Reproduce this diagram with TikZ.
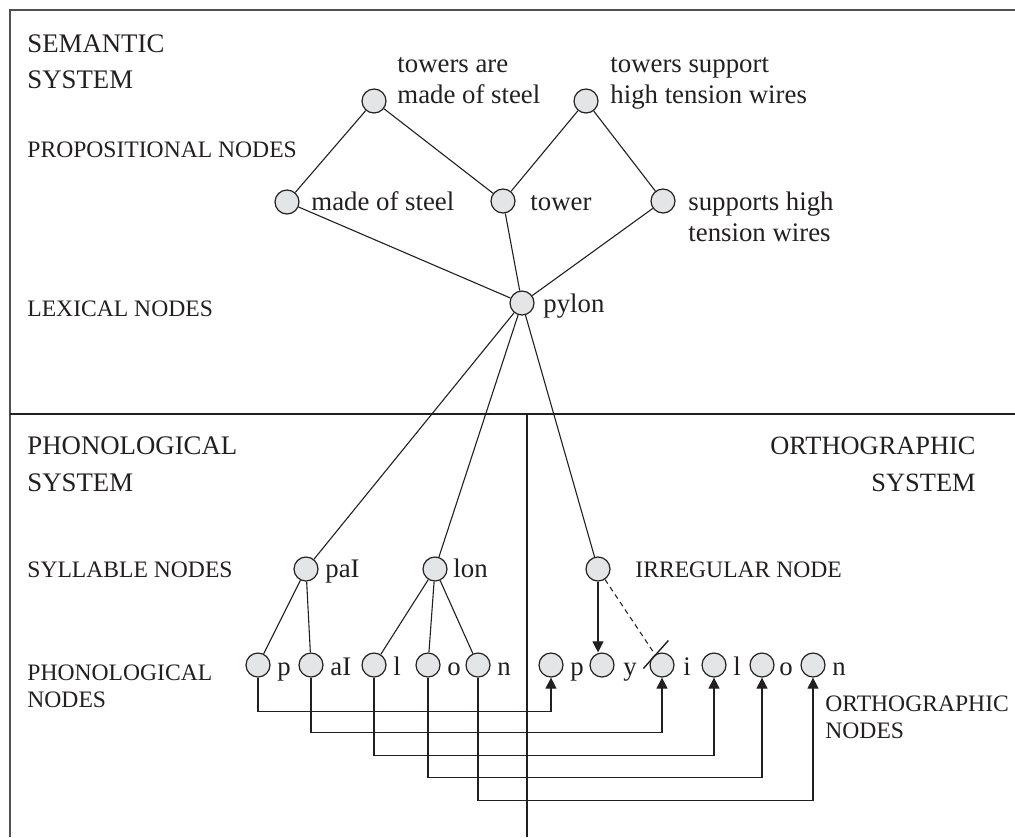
\documentclass[tikz,border=0pt]{standalone}
\usepackage{fontspec}
\setmainfont{Liberation Serif}
\usetikzlibrary{arrows.meta,calc}
\definecolor{ndfill}{HTML}{E4E5E7}
\definecolor{framegray}{HTML}{505050}
\definecolor{ink}{HTML}{231F20}
\begin{document}
\begin{tikzpicture}[x=0.5pt,y=-0.5pt,
  nd/.style={circle,draw=ink,fill=ndfill,line width=0.6pt,minimum size=12pt,inner sep=0pt},
  lb/.style={anchor=base west,inner sep=0pt,text=ink,font=\fontsize{13.4}{16}\selectfont},
  lbr/.style={anchor=base east,inner sep=0pt,text=ink,font=\fontsize{13.2}{16}\selectfont},
  cat/.style={anchor=base west,inner sep=0pt,text=ink,font=\fontsize{11.8}{14}\selectfont},
  ln/.style={draw=ink,line width=0.55pt},
  ar/.style={draw=ink,line width=0.55pt,-{Triangle[length=5.5pt,width=5.5pt]}},
  dsh/.style={draw=ink,line width=0.55pt,dash pattern=on 2.5pt off 2pt},
  framel/.style={draw=framegray,line width=1pt},
  divl/.style={draw=ink,line width=0.6pt}
]
\useasboundingbox (0,0) rectangle (1015,837);
% frame
\coordinate (ftr) at (1015,10);
\coordinate (ftl) at (10,10);
\coordinate (fbl) at (10,837);
\draw[framel] (ftr) -- (ftl) -- (fbl);
\coordinate (dl) at (10,414);
\coordinate (dr) at (1015,414);
\coordinate (vt) at (527,414);
\coordinate (vb) at (527,837);
\draw[divl] (dl) -- (dr);
\draw[divl] (vt) -- (vb);

% semantic nodes
\node[nd] (T1) at (374,101) {};
\node[nd] (T2) at (586,101) {};
\node[nd] (M) at (287,202) {};
\node[nd] (TW) at (503,201) {};
\node[nd] (S) at (663,201) {};
\node[nd] (P) at (522,303) {};
% syllable nodes
\node[nd] (paI) at (306,569) {};
\node[nd] (lon) at (435,569) {};
\node[nd] (irr) at (598,569) {};
% phonological nodes
\node[nd] (pp) at (258,665) {};
\node[nd] (pa) at (311,665) {};
\node[nd] (pl) at (374,665) {};
\node[nd] (po) at (428,665) {};
\node[nd] (pn) at (478,665) {};
% orthographic nodes
\node[nd] (op) at (551,665) {};
\node[nd] (oy) at (602,665) {};
\node[nd] (oi) at (662,665) {};
\node[nd] (ol) at (714,665) {};
\node[nd] (oo) at (762,665) {};
\node[nd] (on) at (813,665) {};

% labels
\node[lb] (lt1a) at (397,72) {towers are};
\node[lb] (lt1b) at (397,103) {made of steel};
\node[lb] (lt2a) at (610,72) {towers support};
\node[lb] (lt2b) at (610,103) {high tension wires};
\node[lb] (lm) at (311,210) {made of steel};
\node[lb] (ltw) at (530,210) {tower};
\node[lb] (lsa) at (688,210) {supports high};
\node[lb] (lsb) at (688,241) {tension wires};
\node[lb] (lp) at (543,312) {pylon};
\node[lb] (lpai) at (325,577) {paI};
\node[lb] (llon) at (453,577) {lon};
\node[lb] (lpp) at (277,675) {p};
\node[lb] (lpa) at (330,675) {aI};
\node[lb] (lpl) at (393,675) {l};
\node[lb] (lpo) at (447,675) {o};
\node[lb] (lpn) at (497,675) {n};
\node[lb] (lop) at (570,675) {p};
\node[lb] (loy) at (623,675) {y};
\node[lb] (loi) at (683,675) {i};
\node[lb] (lol) at (733,675) {l};
\node[lb] (loo) at (779,675) {o};
\node[lb] (lon2) at (832,675) {n};

% category labels
\node[lb] (semA) at (27,52) {SEMANTIC};
\node[lb] (semB) at (27,88) {SYSTEM};
\node[cat] (prop) at (27,157) {PROPOSITIONAL NODES};
\node[cat] (lex) at (27,316) {LEXICAL NODES};
\node[lb] (phA) at (27,454) {PHONOLOGICAL};
\node[lb] (phB) at (27,491) {SYSTEM};
\node[cat] (syl) at (27,577) {SYLLABLE NODES};
\node[cat] (phnA) at (27,680) {PHONOLOGICAL};
\node[cat] (phnB) at (27,707) {NODES};
\node[lbr] (orA) at (976,454) {ORTHOGRAPHIC};
\node[lbr] (orB) at (976,491) {SYSTEM};
\node[cat] (irrl) at (635,577) {IRREGULAR NODE};
\node[cat] (ornA) at (825,711) {ORTHOGRAPHIC};
\node[cat] (ornB) at (825,738) {NODES};

% semantic links
\draw[ln] (T1) -- (M);
\draw[ln] (T1) -- (TW);
\draw[ln] (T2) -- (TW);
\draw[ln] (T2) -- (S);
\draw[ln] (M) -- (P);
\draw[ln] (TW) -- (P);
\draw[ln] (S) -- (P);
% pylon to lower systems
\draw[ln] (P) -- (paI);
\draw[ln] (P) -- (lon);
\draw[ln] (P) -- (irr);
% syllables to phonemes
\draw[ln] (paI) -- (pp);
\draw[ln] (paI) -- (pa);
\draw[ln] (lon) -- (pl);
\draw[ln] (lon) -- (po);
\draw[ln] (lon) -- (pn);
% irregular node
\draw[ar] (irr.south) -- (irr.south |- oy.north);
\coordinate (cut) at ($(oi)!6pt!(irr)$);
\draw[dsh] (irr) -- (cut);
\coordinate (slA) at ($(cut)+(-12,13.5)$);
\coordinate (slB) at ($(cut)+(13,-14.5)$);
\draw[draw=ink,line width=0.7pt] (slA) -- (slB);
% phonological to orthographic
\draw[ar] (pp.south) -- ++(0,34) -| (op.south);
\draw[ar] (pa.south) -- ++(0,55) -| (oi.south);
\draw[ar] (pl.south) -- ++(0,78) -| (ol.south);
\draw[ar] (po.south) -- ++(0,100) -| (oo.south);
\draw[ar] (pn.south) -- ++(0,123) -| (on.south);
\end{tikzpicture}
\end{document}
